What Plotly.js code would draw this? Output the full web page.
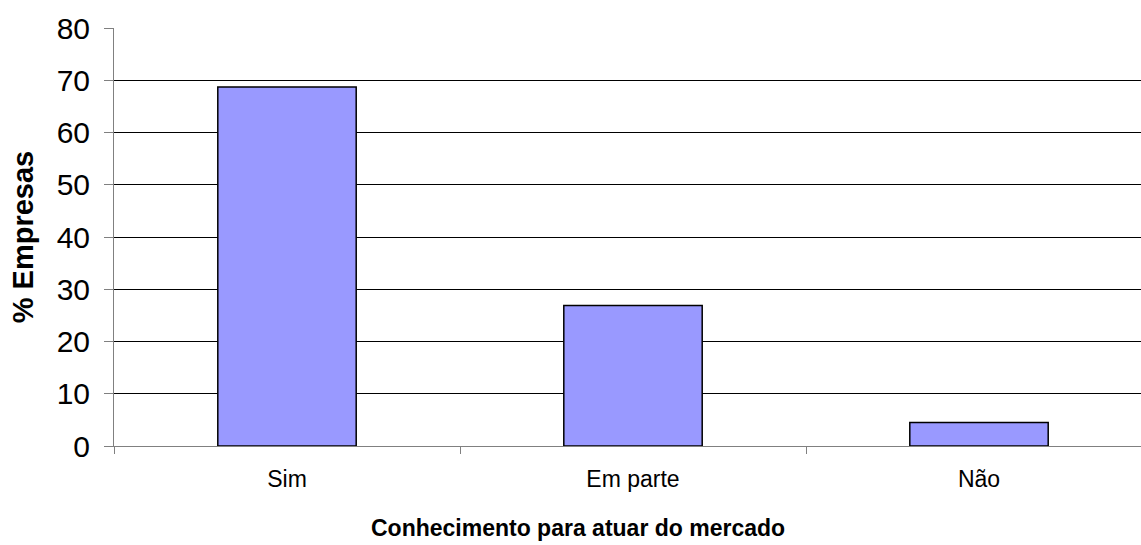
<!DOCTYPE html>
<html><head><meta charset="utf-8">
<script src="https://cdn.plot.ly/plotly-3.0.1.min.js"></script>
<style>html,body{margin:0;padding:0;overflow:hidden;background:#fff;}</style>
</head><body><div id="chart"></div>
<script>
const categories = ["Sim", "Em parte", "Não"];
const values = [68.7, 26.9, 4.5];
const yTicks = [0, 10, 20, 30, 40, 50, 60, 70, 80];

const trace = {
  type: "bar", x: categories, y: values, width: 0.4,
  marker: {color: "#9999FF", line: {color: "#000000", width: 1.5}},
  hoverinfo: "x+y"
};
const layout = {
  width: 1152, height: 545,
  margin: {l: 114, r: 0, t: 28, b: 99},
  paper_bgcolor: "#ffffff", plot_bgcolor: "#ffffff",
  font: {family: "Liberation Sans, Arial, sans-serif", color: "#000"},
  showlegend: false,
  xaxis: {
    type: "category", tickson: "boundaries", ticks: "outside", ticklen: 7, tickcolor: "#808080",
    showline: true, linecolor: "#808080", linewidth: 1, showgrid: false,
    tickfont: {size: 23}, ticklabelstandoff: 12
  },
  yaxis: {
    range: [0, 80], tickvals: yTicks, ticks: "outside", ticklen: 9, tickcolor: "#808080",
    showline: true, linecolor: "#808080", linewidth: 1,
    showgrid: true, gridcolor: "#000000", gridwidth: 1, zeroline: false,
    tickfont: {size: 30}, ticklabelstandoff: 8,
    title: {text: "<b>% Empresas</b>", font: {size: 29}, standoff: 14}
  },
  annotations: [{
    text: "<b>Conhecimento para atuar do mercado</b>", xref: "paper", yref: "paper",
    x: 0.447, y: -0.196, xanchor: "center", yanchor: "middle", showarrow: false,
    font: {size: 23}
  }],
  bargap: 0.6
};
Plotly.newPlot("chart", [trace], layout, {displayModeBar: false, staticPlot: true});
</script></body></html>
